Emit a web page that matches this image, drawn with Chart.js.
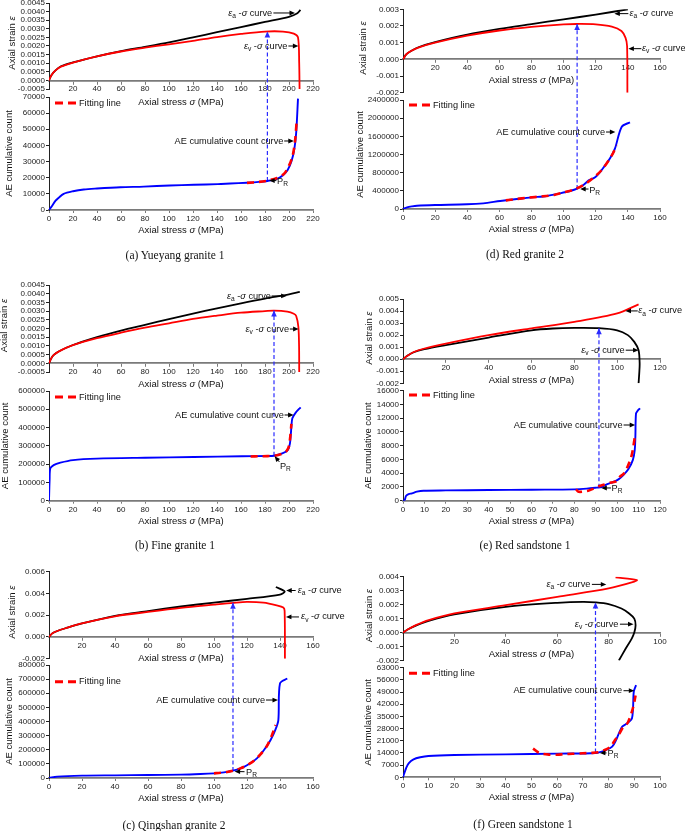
<!DOCTYPE html>
<html><head><meta charset="utf-8">
<script src="https://cdn.jsdelivr.net/npm/chart.js@4.4.1/dist/chart.umd.min.js"></script>
<style>
html,body{margin:0;padding:0;background:#fff;width:685px;height:831px;overflow:hidden;position:relative}
canvas{position:absolute}
.cap{position:absolute;font-family:"Liberation Serif","Times New Roman",serif;font-size:11.5px;color:#111;white-space:nowrap;transform:translate(-50%,-50%)}
</style></head><body>
<script>
// ---------- tick labels ----------
const aStressTicks = [0,20,40,60,80,100,120,140,160,180,200,220];
const aStrainTicks = [-0.0005,0,0.0005,0.001,0.0015,0.002,0.0025,0.003,0.0035,0.004,0.0045];
const aCountTicks = [0,10000,20000,30000,40000,50000,60000,70000];
const bStressTicks = [0,20,40,60,80,100,120,140,160,180,200,220];
const bStrainTicks = [-0.0005,0,0.0005,0.001,0.0015,0.002,0.0025,0.003,0.0035,0.004,0.0045];
const bCountTicks = [0,100000,200000,300000,400000,500000,600000];
const cStressTicks = [0,20,40,60,80,100,120,140,160];
const cStrainTicks = [-0.002,0,0.002,0.004,0.006];
const cCountTicks = [0,100000,200000,300000,400000,500000,600000,700000,800000];
const dStressTicks = [0,20,40,60,80,100,120,140,160];
const dStrainTicks = [-0.002,-0.001,0,0.001,0.002,0.003];
const dCountTicks = [0,400000,800000,1200000,1600000,2000000,2400000];
const eStressTicks = [0,20,40,60,80,100,120];
const eStressTicksB = [0,10,20,30,40,50,60,70,80,90,100,110,120];
const eStrainTicks = [-0.002,-0.001,0,0.001,0.002,0.003,0.004,0.005];
const eCountTicks = [0,2000,4000,6000,8000,10000,12000,14000,16000];
const fStressTicks = [0,20,40,60,80,100];
const fStressTicksB = [0,10,20,30,40,50,60,70,80,90,100];
const fStrainTicks = [-0.002,-0.001,0,0.001,0.002,0.003,0.004];
const fCountTicks = [0,7000,14000,21000,28000,35000,42000,49000,56000,63000];

// ---------- (a) Yueyang granite 1 ----------
const aEaStress = [0,2,5,10,20,40,60,80,100,120,140,160,180,200,207,209.5];
const aEa = [0,0.0003,0.00055,0.00082,0.00105,0.0014,0.0017,0.00195,0.00221,0.0025,0.0028,0.0031,0.0034,0.0037,0.0039,0.0041];
const aEvStress = [0,2,5,10,20,40,60,80,100,120,140,160,180,195,204,207.5,208.5,208.8];
const aEv = [0,0.0003,0.00055,0.0008,0.00104,0.0014,0.00168,0.0019,0.0021,0.0023,0.00252,0.0027,0.00284,0.00284,0.00272,0.0025,0.001,-0.0005];
const aAeStress = [0,2.5,5.3,8,12.2,20,29,40,59.5,79,100.7,120.7,140.7,151,165,175,182,190,195,199,202,204.5,206,207.5];
const aAe = [0,2500,5600,7500,10000,11600,12700,13300,14100,14500,15200,15600,16000,16400,16900,17400,18000,19300,21500,25000,30000,38000,48000,69000];
const aFitStress = [165,175,182,190,196,200,203,205,206.5];
const aFit = [16800,17400,18200,19800,22500,27500,33500,42500,56000];

// ---------- (b) Fine granite 1 ----------
const bEaStress = [0,2,4,8,20,40,60,80,100,120,140,160,180,200,209];
const bEa = [0,0.0003,0.00048,0.00068,0.00105,0.0015,0.00188,0.00221,0.00254,0.00286,0.00316,0.00345,0.00372,0.00396,0.0041];
const bEvStress = [0,2,4,8,20,40,60,80,100,120,140,160,180,187.5,198.6,204,206,207.8,208.4,208.5];
const bEv = [0,0.0003,0.00048,0.00067,0.00104,0.00144,0.00176,0.00205,0.0023,0.00255,0.00274,0.00291,0.003,0.00303,0.00297,0.00285,0.00272,0.0021,0.00096,-0.0005];
const bAeStress = [0,0.5,1.1,3.9,9.5,20,40,80,120.7,160.8,182,187.5,194.4,199,200.8,202,202.8,205.6,209.7];
const bAe = [0,113000,177000,195000,208000,222000,230000,235000,239000,243000,244500,246000,259000,277000,314000,405000,451000,482000,511000];
const bFitStress = [168,175,182,188,194,198,200,201.2,202];
const bFit = [242000,243000,244000,246000,256000,272000,300000,360000,420000];

// ---------- (c) Qingshan granite 2 ----------
const cEaStress = [0,2,5,10,20,40,60,80,100,120,140,142.8,137.5];
const cEa = [0,0.00033,0.00055,0.0008,0.00124,0.00194,0.00238,0.0028,0.00316,0.0035,0.0039,0.00418,0.0046];
const cEvStress = [0,2,5,10,20,40,60,80,100,112,120,130,138,142,142.8,143];
const cEv = [0,0.00033,0.00055,0.0008,0.00124,0.0019,0.0023,0.00267,0.00297,0.00314,0.00322,0.00315,0.0029,0.0027,0.0024,-0.002];
const cAeStress = [0,4.9,20,40,60,80,91.8,100,106,111.4,116,120,126,130.3,134.3,137.3,139,140,144.4];
const cAe = [0,9400,16500,18900,21200,23600,28000,33000,40000,52000,68000,90000,139000,198000,269000,344000,410000,670000,705000];
const cFitStress = [100,104,108,112,116,120,124,128,132,135,137.3];
const cFit = [33000,37000,43000,53000,68000,90000,120000,165000,225000,300000,375000];

// ---------- (d) Red granite 2 ----------
const dEaStress = [0,2,5,10,20,40,60,80,100,120,140];
const dEa = [0,0.0003,0.0005,0.00074,0.00103,0.00148,0.00182,0.00211,0.0024,0.00268,0.003];
const dEvStress = [0,2,5,10,20,40,60,80,100,108,120,130,136,138.5,139.5,139.7];
const dEv = [0,0.0003,0.0005,0.00072,0.001,0.00142,0.00173,0.00195,0.0021,0.00212,0.0021,0.00196,0.0017,0.0013,0.0008,-0.002];
const dAeStress = [0,2.5,5.6,8.7,20,39.8,50,60.5,70.9,80.2,89.5,97.8,104,108.4,112.3,115.4,119.6,123.7,128.9,132,136.2,141.3];
const dAe = [0,37000,59000,73000,88000,103000,125000,176000,220000,257000,286000,345000,396000,448000,528000,624000,697000,859000,1115000,1336000,1813000,1908000];
const dFitStress = [64,70,78,86,94,100,106,112,118,124,130,133];
const dFit = [190000,217000,250000,275000,310000,365000,425000,520000,670000,870000,1180000,1400000];

// ---------- (e) Red sandstone 1 ----------
const eEaStress = [0,2,5,10,20,40,60,80,100,110];
const eEa = [0,0.00028,0.0006,0.00089,0.0013,0.002,0.00256,0.0031,0.0038,0.00456];
const eEvStress = [0,2,5,10,20,40,60,70,80,91.5,100,105,108,110,110.5,110.3,110];
const eEv = [0,0.00028,0.00058,0.00083,0.00117,0.0018,0.0024,0.00255,0.0026,0.00258,0.0024,0.002,0.00144,0.00075,-0.00036,-0.0012,-0.002];
const eAeStress = [0,0.8,1.4,2.6,4.2,6.5,9.6,20,40,60,80,85.8,90.5,92.8,95.1,98.2,100.6,102.9,105.2,107.3,108.2,108.5,108.8,109.6,110.7];
const eAe = [0,100,680,970,1070,1310,1450,1500,1550,1600,1650,1750,1900,1990,2380,2720,3100,3730,4560,5900,7370,9300,12700,13100,13430];
const eFitStress = [80.8,82,85.8,87,91.5,94,97,99.5,101.3,103,104.5,106.5,107.3,108.3];
const eFit = [1650,1300,1400,1500,2100,2350,2650,2800,3500,3900,4700,6300,7400,9400];

// ---------- (f) Green sandstone 1 ----------
const fEaStress = [0,2,5,10,20,40,60,80,90,91,82.7];
const fEa = [0,0.00024,0.00053,0.00089,0.00137,0.00196,0.00256,0.00316,0.00365,0.00376,0.00395];
const fEvStress = [0,2,5,10,20,40,60,70,75,80,85,88,90,90.5,90,89,86.5,84];
const fEv = [0,0.00024,0.0005,0.00084,0.0013,0.00184,0.00213,0.0022,0.00216,0.00204,0.00172,0.00137,0.001,0.00053,0,-0.00043,-0.0012,-0.002];
const fAeStress = [0,0.5,1.2,2.2,4.1,6.7,9.9,20,40,60,75,79,81.4,82.9,84,85.3,86.8,89.1,89.8,90.7];
const fAe = [0,2300,5200,8000,10300,11500,12250,12800,13200,13600,14000,15700,17600,21400,25300,29100,30600,33900,49200,53000];
const fFitStress = [50.6,53,57,60,63,66,70,73,76,79,81,82.5,84,85.5,87.5,89.5,90.5];
const fFit = [16500,14000,13000,13000,13300,13500,13800,14000,14400,16000,18000,21500,24500,28500,31500,40000,47000];

// ---------- P_R points (a..f) ----------
const prStress = [182,187.5,111.5,108.4,91.5,74.9];
const prCount = [18000,246000,50000,440000,1900,14200];
const prStrain = [0.00284,0.00303,0.00314,0.00212,0.00258,0.00216];

const captions = ['(a) Yueyang granite 1','(b) Fine granite 1','(c) Qingshan granite 2','(d) Red granite 2','(e) Red sandstone 1','(f) Green sandstone 1'];

// ---------- rendering ----------
const F = '"Liberation Sans", Arial, Helvetica, sans-serif';
const RED = '#ff0000', BLK = '#000000', BLU = '#0000ff', PRC = '#2b2bff';
const zip = (xs, ys) => xs.map((x, i) => ({x, y: ys[i]}));
const decoMap = new Map();

const EA = [['ε','i'],['a','s'],[' -',''],['σ','i'],[' curve','']];
const EV = [['ε','i'],['v','s'],[' -',''],['σ','i'],[' curve','']];
const AEC = [['AE cumulative count curve','']];
const PR = [['P',''],['R','s']];
const XT = [['Axial stress ',''],['σ','i'],[' (MPa)','']];
const YT1 = [['Axial strain ',''],['ε','i']];
const YT2 = [['AE cumulative count','']];

function rich(ctx, segs, x, y, align, size) {
  const parts = segs.map(([t, st]) => {
    const sub = st.includes('s'), it = st.includes('i');
    const fs = sub ? size * 0.72 : size;
    const font = (it ? 'italic ' : '') + fs + 'px ' + F;
    ctx.font = font;
    return {t, font, w: ctx.measureText(t).width, dy: sub ? size * 0.32 : 0};
  });
  const total = parts.reduce((s, p) => s + p.w, 0);
  let cx = align === 'center' ? x - total / 2 : align === 'right' ? x - total : x;
  ctx.textBaseline = 'middle'; ctx.textAlign = 'left'; ctx.fillStyle = '#111';
  for (const p of parts) { ctx.font = p.font; ctx.fillText(p.t, cx, y + p.dy); cx += p.w; }
}
function head(ctx, x1, y1, x2, y2, color, hl, hw) {
  const a = Math.atan2(y2 - y1, x2 - x1), c = Math.cos(a), s = Math.sin(a);
  ctx.fillStyle = color;
  ctx.beginPath(); ctx.moveTo(x2, y2);
  ctx.lineTo(x2 - c * hl + s * hw, y2 - s * hl - c * hw);
  ctx.lineTo(x2 - c * hl - s * hw, y2 - s * hl + c * hw);
  ctx.closePath(); ctx.fill();
}
function arrow(ctx, x1, y1, x2, y2) {
  const a = Math.atan2(y2 - y1, x2 - x1);
  ctx.strokeStyle = '#000'; ctx.lineWidth = 1; ctx.setLineDash([]);
  ctx.beginPath(); ctx.moveTo(x1, y1); ctx.lineTo(x2 - Math.cos(a) * 4, y2 - Math.sin(a) * 4); ctx.stroke();
  head(ctx, x1, y1, x2, y2, '#000', 5.5, 2.4);
}

const decoPlugin = {
  id: 'deco',
  afterDatasetsDraw(chart) {
    const d = decoMap.get(chart.canvas); if (!d || d.tip == null) return;
    const pts = chart.getDatasetMeta(d.tip).data;
    const p = pts[pts.length - 1], q = pts[pts.length - 2];
    const ctx = chart.ctx; ctx.save();
    head(ctx, q.x, q.y, p.x, p.y, PRC, 6, 2.8);
    ctx.restore();
  },
  afterDraw(chart) {
    const d = decoMap.get(chart.canvas); if (!d) return;
    const ctx = chart.ctx, xs = chart.scales.x, ys = chart.scales.y, ca = chart.chartArea;
    ctx.save();
    const tx = (ca.left + ca.right) / 2;
    const ty = d.isTop ? ys.getPixelForValue(0) + 21.5 : ca.bottom + 20.5;
    rich(ctx, XT, tx, ty, 'center', 9.5);
    ctx.save();
    ctx.translate(d.yTitleX, (ca.top + ca.bottom) / 2 + (d.isTop ? -3 : 0));
    ctx.rotate(-Math.PI / 2);
    rich(ctx, d.isTop ? YT1 : YT2, 0, 0, 'center', 9.5);
    ctx.restore();
    for (const n of d.notes) rich(ctx, n[0], xs.getPixelForValue(n[1]), ys.getPixelForValue(n[2]), n[3], 9.2);
    for (const a of d.arrows) arrow(ctx, xs.getPixelForValue(a[0]), ys.getPixelForValue(a[1]), xs.getPixelForValue(a[2]), ys.getPixelForValue(a[3]));
    if (!d.isTop) {
      const ly = ca.top + d.legDy, lx = ca.left;
      ctx.strokeStyle = RED; ctx.lineWidth = 3; ctx.setLineDash([8, 5]);
      ctx.beginPath(); ctx.moveTo(lx + 6, ly); ctx.lineTo(lx + 27, ly); ctx.stroke();
      ctx.setLineDash([]);
      rich(ctx, [['Fitting line','']], lx + 30, ly, 'left', 9.2);
    }
    ctx.restore();
  }
};

const panels = [
  {col:0, top:{t:3,b:89}, bot:{t:97,b:210}, ea:[aEaStress,aEa], ev:[aEvStress,aEv], eaC:BLK, evC:RED, ae:[aAeStress,aAe], fit:[aFitStress,aFit],
   xt:aStressTicks, xtb:aStressTicks, yt:aStrainTicks, ytb:aCountTicks, dec:4, yT:[12.5,9.5], legDy:6, capX:175, capY:255,
   nT:[[EA,186,0.00392,'right'],[EV,198.7,0.0020,'right']], aT:[[187,0.00392,205,0.00392],[199.5,0.002,207.8,0.002]],
   nB:[[AEC,195.3,42750,'right'],[PR,190,17970,'left']], aB:[[196,42750,204,42750],[189.5,18200,183.5,18200]]},
  {col:0, top:{t:285,b:372}, bot:{t:391,b:500.7}, ea:[bEaStress,bEa], ev:[bEvStress,bEv], eaC:BLK, evC:RED, ae:[bAeStress,bAe], fit:[bFitStress,bFit],
   xt:bStressTicks, xtb:bStressTicks, yt:bStrainTicks, ytb:bCountTicks, dec:4, yT:[4.5,5], legDy:6, capX:175, capY:545,
   nT:[[EA,184.9,0.00387,'right'],[EV,200,0.00197,'right']], aT:[[185.5,0.00387,198,0.00387],[200.7,0.00197,208,0.00197]],
   nB:[[AEC,195.7,468800,'right'],[PR,192.4,190000,'left']], aB:[[196.3,468800,203.8,468800],[192,212000,188,243000]]},
  {col:0, top:{t:571.7,b:658.7}, bot:{t:665,b:778}, ea:[cEaStress,cEa], ev:[cEvStress,cEv], eaC:BLK, evC:RED, ae:[cAeStress,cAe], fit:[cFitStress,cFit],
   xt:cStressTicks, xtb:cStressTicks, yt:cStrainTicks, ytb:cCountTicks, dec:3, yT:[12,9.7], legDy:16.7, capX:174, capY:825,
   nT:[[EA,150.8,0.00427,'left'],[EV,152.8,0.00184,'left']], aT:[[149.5,0.00427,143.8,0.00427],[151.5,0.00184,143.6,0.00184]],
   nB:[[AEC,130.9,552000,'right'],[PR,119.4,42500,'left']], aB:[[131.5,552000,138.8,552000],[118.5,44600,112.5,46000]]},
  {col:1, top:{t:9.3,b:92.7}, bot:{t:100,b:209}, ea:[dEaStress,dEa], ev:[dEvStress,dEv], eaC:BLK, evC:RED, ae:[dAeStress,dAe], fit:[dFitStress,dFit],
   xt:dStressTicks, xtb:dStressTicks, yt:dStrainTicks, ytb:dCountTicks, dec:3, yT:[363.7,360.5], legDy:5, capX:525, capY:254,
   nT:[[EA,141,0.00274,'left'],[EV,148.8,0.00064,'left']], aT:[[140.3,0.00274,131.6,0.00274],[148.4,0.00064,140.3,0.00064]],
   nB:[[AEC,125.8,1695000,'right'],[PR,115.9,418000,'left']], aB:[[126.4,1695000,132.2,1695000],[115.5,440000,110.3,440000]]},
  {col:1, top:{t:299,b:383.3}, bot:{t:390.7,b:500.7}, ea:[eEaStress,eEa], ev:[eEvStress,eEv], eaC:RED, evC:BLK, ae:[eAeStress,eAe], fit:[eFitStress,eFit],
   xt:eStressTicks, xtb:eStressTicksB, yt:eStrainTicks, ytb:eCountTicks, dec:3, yT:[369.7,368.7], legDy:4.3, capX:525, capY:545,
   nT:[[EA,109.8,0.00401,'left'],[EV,103.5,0.00075,'right']], aT:[[109.6,0.00401,103.9,0.00401],[104,0.00075,110,0.00075]],
   nB:[[AEC,102.5,11010,'right'],[PR,97.4,1850,'left']], aB:[[103,11010,108.4,11010],[97.1,1850,92.6,1850]]},
  {col:1, top:{t:576.7,b:660.5}, bot:{t:667.7,b:777.3}, ea:[fEaStress,fEa], ev:[fEvStress,fEv], eaC:RED, evC:BLK, ae:[fAeStress,fAe], fit:[fFitStress,fFit],
   xt:fStressTicks, xtb:fStressTicksB, yt:fStrainTicks, ytb:fCountTicks, dec:3, yT:[369.7,368.7], legDy:5.6, capX:523, capY:824,
   nT:[[EA,72.9,0.00345,'right'],[EV,83.8,0.0006,'right']], aT:[[73.5,0.00345,79.1,0.00345],[84.4,0.0006,89.7,0.0006]],
   nB:[[AEC,85.3,49770,'right'],[PR,79.6,13800,'left']], aB:[[85.8,49770,90,49770],[79.2,14000,76.6,14000]]}
];

function build(p, i, isTop) {
  const cl = p.col === 0 ? 0 : 340, cw = p.col === 0 ? 352 : 345;
  const L = p.col === 0 ? 49 : 403, R = p.col === 0 ? 313 : 660;
  const ar = isTop ? p.top : p.bot;
  const ct = isTop ? Math.floor(ar.t - 12) : Math.floor(p.top.b);
  const below = isTop ? 28 : 32;
  const H = Math.ceil(ar.b + below - ct);
  const cv = document.createElement('canvas');
  cv.width = cw; cv.height = H;
  cv.style.left = cl + 'px'; cv.style.top = ct + 'px';
  cv.style.width = cw + 'px'; cv.style.height = H + 'px';
  document.body.appendChild(cv);
  const xt = isTop ? p.xt : p.xtb, yt = isTop ? p.yt : p.ytb;
  const areaBottom = ar.b - ct;
  let ds;
  if (isTop) {
    ds = [
      {data: zip(p.ea[0], p.ea[1]), borderColor: p.eaC, borderWidth: 1.8, order: p.eaC === RED ? 1 : 2},
      {data: zip(p.ev[0], p.ev[1]), borderColor: p.evC, borderWidth: 1.8, order: p.evC === RED ? 1 : 2},
      {data: [{x: prStress[i], y: yt[0]}, {x: prStress[i], y: prStrain[i]}], borderColor: PRC, borderWidth: 1.2, borderDash: [4, 2.5], tension: 0, order: 0}
    ];
  } else {
    ds = [
      {data: zip(p.fit[0], p.fit[1]), borderColor: RED, borderWidth: 2.6, borderDash: [7, 5], order: 0},
      {data: zip(p.ae[0], p.ae[1]), borderColor: BLU, borderWidth: 1.9, order: 1},
      {data: [{x: prStress[i], y: prCount[i]}, {x: prStress[i], y: yt[yt.length - 1] * 3}], borderColor: PRC, borderWidth: 1.2, borderDash: [4, 2.5], tension: 0, clip: false, order: 2}
    ];
  }
  const yfmt = isTop ? (v => (Math.abs(v) < 1e-12 ? 0 : v).toFixed(p.dec)) : (v => String(Math.round(v)));
  decoMap.set(cv, {isTop, yTitleX: (isTop ? p.yT[0] : p.yT[1]) - cl, notes: isTop ? p.nT : p.nB, arrows: isTop ? p.aT : p.aB, legDy: p.legDy, tip: isTop ? 2 : null});
  new Chart(cv, {
    type: 'line',
    data: {datasets: ds},
    options: {
      responsive: false, animation: false, devicePixelRatio: 1, events: [],
      layout: {padding: {left: 0, top: ar.t - ct, right: (cl + cw) - R, bottom: isTop ? H - areaBottom : 0}},
      elements: {point: {radius: 0}, line: {tension: 0.3, borderCapStyle: 'butt', borderJoinStyle: 'round', fill: false}},
      plugins: {legend: {display: false}, tooltip: {enabled: false}},
      scales: {
        x: {
          type: 'linear', min: xt[0], max: xt[xt.length - 1],
          position: isTop ? {y: 0} : 'bottom',
          afterBuildTicks: s => { s.ticks = xt.map(v => ({value: v})); },
          afterFit: s => { s.height = isTop ? 20 : H - areaBottom; },
          grid: {display: true, drawOnChartArea: false, drawTicks: true, tickLength: 3, color: '#7a7a7a', lineWidth: 1},
          border: {display: true, color: '#7a7a7a', width: 1.8},
          ticks: {font: {family: F, size: 8}, color: '#222', padding: 1, maxRotation: 0, minRotation: 0, autoSkip: false,
                  callback: v => (isTop && v === 0) ? '' : String(v)}
        },
        y: {
          type: 'linear', min: yt[0], max: yt[yt.length - 1], position: 'left',
          afterBuildTicks: s => { s.ticks = yt.map(v => ({value: v})); },
          afterFit: s => { s.width = L - cl; },
          grid: {display: true, drawOnChartArea: false, drawTicks: true, tickLength: 3, color: '#222', lineWidth: 1},
          border: {display: true, color: '#222', width: 1},
          ticks: {font: {family: F, size: 8}, color: '#222', padding: 1, autoSkip: false, callback: yfmt}
        }
      }
    },
    plugins: [decoPlugin]
  });
}

panels.forEach((p, i) => {
  build(p, i, true);
  build(p, i, false);
  const c = document.createElement('div');
  c.className = 'cap'; c.textContent = captions[i];
  c.style.left = p.capX + 'px'; c.style.top = p.capY + 'px';
  document.body.appendChild(c);
});
</script>
</body></html>
